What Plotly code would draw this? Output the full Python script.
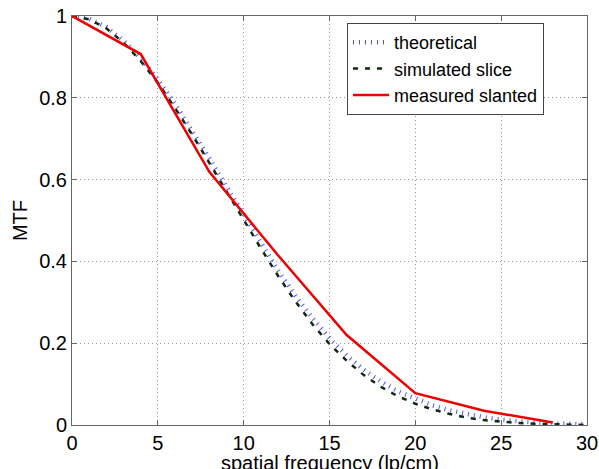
import plotly.graph_objects as go

# frequency grid (lp/cm)
freq = list(range(0, 31))

theoretical = [1.00, 0.993, 0.973, 0.940, 0.897, 0.845, 0.785, 0.720, 0.652, 0.583,
               0.515, 0.445, 0.378, 0.317, 0.262, 0.212, 0.170, 0.135, 0.106, 0.082,
               0.064, 0.048, 0.036, 0.027, 0.019, 0.013, 0.009, 0.006, 0.004, 0.003, 0.002]

simulated = [1.00, 0.992, 0.970, 0.935, 0.890, 0.837, 0.775, 0.710, 0.641, 0.571,
             0.502, 0.432, 0.365, 0.303, 0.247, 0.198, 0.157, 0.122, 0.093, 0.070,
             0.052, 0.038, 0.027, 0.018, 0.012, 0.008, 0.005, 0.003, 0.002, 0.001, 0.0]

meas_freq = [0, 4, 8, 12, 16, 20, 24, 28]
measured = [1.00, 0.907, 0.619, 0.415, 0.220, 0.078, 0.035, 0.006]

x_ticks = [0, 5, 10, 15, 20, 25, 30]
y_ticks = [0, 0.2, 0.4, 0.6, 0.8, 1]
y_labels = ["0", "0.2", "0.4", "0.6", "0.8", "1"]

fnt = "Liberation Sans, Arial, Helvetica, sans-serif"

fig = go.Figure()
fig.add_trace(go.Scatter(x=freq, y=theoretical, mode="lines", name="theoretical",
                         line=dict(color="#5050ff", width=4.5, dash="1px,5px")))
fig.add_trace(go.Scatter(x=freq, y=simulated, mode="lines", name="simulated slice",
                         line=dict(color="#0f2a10", width=2.5, dash="5px,7px")))
fig.add_trace(go.Scatter(x=meas_freq, y=measured, mode="lines", name="measured slanted",
                         line=dict(color="#ee0000", width=2.5)))

axis_style = dict(showline=True, linecolor="#666666", linewidth=1, mirror="ticks",
                  ticks="inside", ticklen=5, tickcolor="#666666",
                  showgrid=True, gridcolor="#999999", griddash="1px,3px", gridwidth=1,
                  zeroline=False, tickfont=dict(size=20, color="black"))

fig.update_xaxes(range=[0, 30], tickvals=x_ticks, **axis_style)
fig.update_yaxes(range=[0, 1], tickvals=y_ticks, ticktext=y_labels, **axis_style,
                 title=dict(text="MTF", font=dict(size=20, color="black"), standoff=6))

# x title sits lower than plotly's margin allows, so place it as an annotation
fig.add_annotation(text="spatial frequency (lp/cm)", xref="paper", yref="paper",
                   x=0.5, y=-0.093, xanchor="center", yanchor="middle",
                   showarrow=False, font=dict(size=20, color="black"))

fig.update_layout(
    width=599, height=469,
    margin=dict(l=72, r=12, t=16, b=44, autoexpand=False),
    paper_bgcolor="white", plot_bgcolor="white",
    font=dict(family=fnt, color="black"),
    legend=dict(x=0.534, y=0.983, xanchor="left", yanchor="top",
                bgcolor="white", bordercolor="#444444", borderwidth=1,
                font=dict(size=18), tracegroupgap=0, itemwidth=36),
    showlegend=True,
)

# the page's default body margin would shift the figure by 8px
fig.write_html("out.html", config={"displayModeBar": False},
               post_script="document.body.style.margin='0';")
